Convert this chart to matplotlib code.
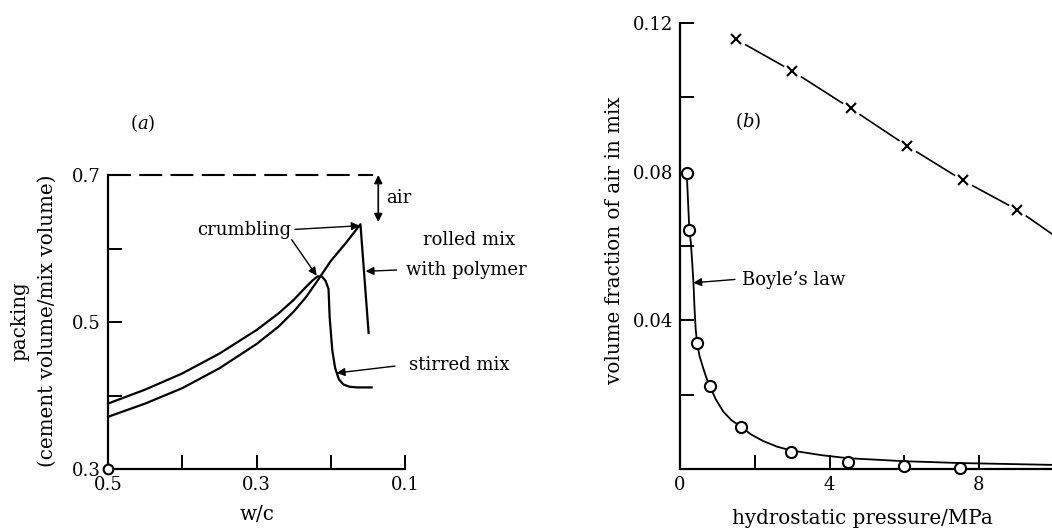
import matplotlib
matplotlib.use("Agg")
import matplotlib.pyplot as plt
from matplotlib.ticker import FixedLocator

plt.rcParams['font.family'] = ['DejaVu Serif']
plt.rcParams['mathtext.fontset'] = 'dejavuserif'

# ---------------- data: panel (a) ----------------
stirred_wc = [0.50, 0.45, 0.40, 0.35, 0.30, 0.27, 0.25, 0.235, 0.225, 0.218, 0.212,
              0.207, 0.203, 0.2015, 0.198, 0.194, 0.189, 0.183, 0.175, 0.165, 0.145]
stirred_pk = [0.389, 0.408, 0.430, 0.457, 0.489, 0.512, 0.530, 0.546, 0.556, 0.562, 0.562,
              0.556, 0.545, 0.507, 0.462, 0.437, 0.422, 0.415, 0.412, 0.411, 0.411]

rolled_wc = [0.50, 0.45, 0.40, 0.35, 0.30, 0.27, 0.25, 0.234, 0.22, 0.20, 0.18, 0.160, 0.149]
rolled_pk = [0.371, 0.389, 0.410, 0.437, 0.470, 0.494, 0.514, 0.533, 0.553, 0.583, 0.607, 0.633, 0.485]

full_packing_wc = [0.5, 0.143]
full_packing = [0.7, 0.7]

a_xticks_major = [0.5, 0.3, 0.1]
a_xticks_minor = [0.4, 0.2]
a_yticks_major = [0.3, 0.5, 0.7]
a_yticks_minor = [0.4, 0.6]

# ---------------- data: panel (b) ----------------
circ_p = [0.18, 0.25, 0.46, 0.80, 1.63, 2.97, 4.5, 6.0, 7.5]
circ_v = [0.0797, 0.0643, 0.0338, 0.0223, 0.0114, 0.0047, 0.0019, 0.0008, 0.0002]

boyle_p = [0.18, 0.22, 0.25, 0.29, 0.33, 0.36, 0.39, 0.42, 0.46, 0.52, 0.61, 0.70, 0.80, 0.95,
           1.16, 1.38, 1.63, 1.90, 2.23, 2.60, 2.97, 3.8, 4.5, 6.0, 7.5, 10.0]
boyle_v = [0.0797, 0.071, 0.0643, 0.061, 0.055, 0.050, 0.043, 0.0375, 0.0338, 0.0305, 0.0275,
           0.0247, 0.0223, 0.0189, 0.0154, 0.0131, 0.0114, 0.0093, 0.0075, 0.0060, 0.0050,
           0.0037, 0.0029, 0.0021, 0.0016, 0.0011]

cross_p = [1.5, 3.0, 4.57, 6.08, 7.56, 9.03]
cross_v = [0.1156, 0.1071, 0.0970, 0.0869, 0.0777, 0.0697]
cross_line_p = [1.5, 3.0, 4.57, 6.08, 7.56, 9.03, 10.5]
cross_line_v = [0.1156, 0.1071, 0.0970, 0.0869, 0.0777, 0.0697, 0.0594]

b_xticks_major = [0, 4, 8]
b_xticks_minor = [2, 6]
b_yticks_major = [0.04, 0.08, 0.12]
b_yticks_minor = [0.02, 0.06, 0.10]

W, H = 1052, 531
fig = plt.figure(figsize=(W / 100, H / 100), dpi=100)

FS = 13
FSL = 14.3
LW = 1.6

def px_axes(x0, x1, ytop, ybot):
    return fig.add_axes([x0 / W, 1 - ybot / H, (x1 - x0) / W, (ybot - ytop) / H])

def style(ax):
    for s in ('top', 'right'):
        ax.spines[s].set_visible(False)
    for s in ('left', 'bottom'):
        ax.spines[s].set_linewidth(1.6)
    ax.tick_params(which='both', direction='in', length=10, width=1.4, labelsize=FS, pad=5)
    ax.patch.set_alpha(0)

# ---------------- panel (a) ----------------
axa = px_axes(108, 405, 175, 469)
style(axa)
axa.set_xlim(0.5, 0.1)
axa.set_ylim(0.3, 0.7)
axa.xaxis.set_major_locator(FixedLocator(a_xticks_major))
axa.xaxis.set_minor_locator(FixedLocator(a_xticks_minor))
axa.yaxis.set_major_locator(FixedLocator(a_yticks_major))
axa.yaxis.set_minor_locator(FixedLocator(a_yticks_minor))
axa.set_xticklabels([f"{v:.1f}" for v in a_xticks_major])
axa.set_yticklabels([f"{v:.1f}" for v in a_yticks_major])

axa.plot(stirred_wc, stirred_pk, color='black', lw=LW, clip_on=False, solid_joinstyle='round')
axa.plot(rolled_wc, rolled_pk, color='black', lw=LW, clip_on=False, solid_joinstyle='round')
axa.plot(full_packing_wc, full_packing, color='black', lw=1.5, ls=(0, (11, 4)), clip_on=False)
axa.plot([0.5], [0.3], 'o', ms=7, mfc='white', mec='black', mew=1.5, clip_on=False, zorder=5)

arr = dict(arrowstyle='-|>', color='black', lw=1.0, mutation_scale=12, shrinkA=0, shrinkB=0)
axa.text(0.4529, 0.7707, '$(a)$', fontsize=FS, ha='center', va='center')
axa.annotate('', xy=(0.136, 0.636), xytext=(0.136, 0.700),
             arrowprops=dict(arrowstyle='<|-|>', color='black', lw=1.2, mutation_scale=12,
                             shrinkA=0, shrinkB=0), annotation_clip=False)
axa.text(0.1256, 0.669, 'air', fontsize=FS, ha='left', va='center')
axa.text(0.2526, 0.625, 'crumbling', fontsize=FS, ha='right', va='center')
axa.annotate('', xy=(0.161, 0.631), xytext=(0.2482, 0.626), arrowprops=arr, annotation_clip=False)
axa.annotate('', xy=(0.219, 0.563), xytext=(0.2526, 0.612), arrowprops=arr, annotation_clip=False)
axa.text(0.0762, 0.6116, 'rolled mix', fontsize=FS, ha='left', va='center')
axa.text(0.0986, 0.5707, 'with polymer', fontsize=FS, ha='left', va='center')
axa.annotate('', xy=(0.1530, 0.569), xytext=(0.1112, 0.5707), arrowprops=arr, annotation_clip=False)
axa.text(0.0946, 0.4415, 'stirred mix', fontsize=FS, ha='left', va='center')
axa.annotate('', xy=(0.192, 0.4306), xytext=(0.1135, 0.440), arrowprops=arr, annotation_clip=False)

fig.text(20 / W, 1 - 321 / H, 'packing', rotation=90, fontsize=FSL, ha='center', va='center')
fig.text(47 / W, 1 - 321 / H, '(cement volume/mix volume)', rotation=90, fontsize=FSL,
         ha='center', va='center')
fig.text(257 / W, 1 - 515 / H, 'w/c', fontsize=FSL, ha='center', va='center')

# ---------------- panel (b) ----------------
axb = px_axes(680, 1052, 23, 469)
style(axb)
axb.set_xlim(0, 372 / 37.375)
axb.set_ylim(0, 0.12)
axb.xaxis.set_major_locator(FixedLocator(b_xticks_major))
axb.xaxis.set_minor_locator(FixedLocator(b_xticks_minor))
axb.yaxis.set_major_locator(FixedLocator(b_yticks_major))
axb.yaxis.set_minor_locator(FixedLocator(b_yticks_minor))
axb.set_xticklabels([f"{v:d}" for v in b_xticks_major])
axb.set_yticklabels([f"{v:.2f}" for v in b_yticks_major])

axb.plot(boyle_p, boyle_v, color='black', lw=1.3, zorder=2, solid_joinstyle='round')
axb.plot(circ_p, circ_v, 'o', ms=8, mfc='white', mec='black', mew=1.5, zorder=4, clip_on=False)
axb.plot(cross_line_p, cross_line_v, color='black', lw=1.2, zorder=2)
axb.plot(cross_p, cross_v, 'o', ms=14, mfc='white', mec='none', zorder=3)
axb.plot(cross_p, cross_v, 'x', ms=7, mec='black', mew=1.5, zorder=4)

axb.text(1.82, 0.0937, '$(b)$', fontsize=FS, ha='center', va='center')
axb.text(1.65, 0.0508, "Boyle\u2019s law", fontsize=FS, ha='left', va='center')
axb.annotate('', xy=(0.356, 0.0501), xytext=(1.47, 0.0510), arrowprops=arr, annotation_clip=False)

fig.text(615 / W, 1 - 240 / H, 'volume fraction of air in mix', rotation=90, fontsize=FSL,
         ha='center', va='center')
fig.text(862 / W, 1 - 518 / H, 'hydrostatic pressure/MPa', fontsize=FSL, ha='center', va='center')

fig.savefig('out.png', dpi=100, facecolor='white')
